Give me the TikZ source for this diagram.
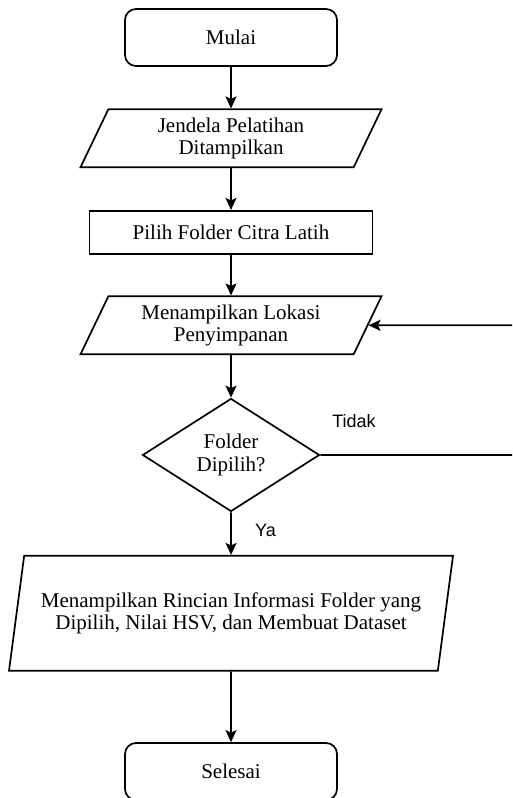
\documentclass[tikz,border=0pt]{standalone}
\usepackage{fontspec}
\setmainfont{Liberation Serif}
\newfontfamily\labelfont{Liberation Sans}
\usetikzlibrary{shapes.geometric,arrows.meta}
\tikzset{
	boxtext/.style = {font=\fontsize{21}{22.5}\selectfont, align=center},
	terminal/.style = {draw, boxtext, line width=1.7pt, rounded corners=11pt, minimum width=212pt, minimum height=57pt},
	process/.style = {draw, boxtext, line width=1.7pt, minimum width=283pt, minimum height=43pt},
	iobox/.style = {draw, boxtext, line width=1.7pt, trapezium, trapezium left angle=60, trapezium right angle=120, trapezium stretches body, minimum width=301pt, minimum height=58pt},
	decision/.style = {draw, boxtext, diamond, line width=1.7pt, minimum width=177pt, minimum height=113pt, inner sep=0pt},
	flowline/.style = {line width=1.7pt, -{Stealth[length=12pt,width=11pt,inset=2.5pt]}},
	edgelabel/.style = {font=\labelfont\fontsize{18}{20}\selectfont}
}

\begin{document}
\begin{tikzpicture}[x=1pt,y=1pt]
	\useasboundingbox (0,0) rectangle (512,798);
	\clip (0,0) rectangle (512,798);
	\node[terminal] (mulai) at (231,760.5) {Mulai};
	\node[iobox] (jendela) at (231,659.7) {Jendela Pelatihan\\Ditampilkan};
	\node[process] (pilih) at (231,565.7) {Pilih Folder Citra Latih};
	\node[iobox] (lokasi) at (231,472.7) {Menampilkan Lokasi\\Penyimpanan};
	\node[decision] (dipilih) at (231,343) {Folder\\Dipilih?};
	\node[iobox, trapezium left angle=72.6, trapezium right angle=107.4, minimum width=444pt, minimum height=115pt] (rincian) at (231,184.7) {Menampilkan Rincian Informasi Folder yang\\Dipilih, Nilai HSV, dan Membuat Dataset};
	\node[terminal] (selesai) at (231,26.5) {Selesai};
	\coordinate (balikbawah) at (530,343);
	\coordinate (balikatas) at (530,472.7);
	\node[edgelabel] (tidak) at (354,376.5) {Tidak};
	\node[edgelabel] (ya) at (265.5,268) {Ya};
	\draw[flowline] (mulai) -- (jendela);
	\draw[flowline] (jendela) -- (pilih);
	\draw[flowline] (pilih) -- (lokasi);
	\draw[flowline] (lokasi) -- (dipilih);
	\draw[flowline] (dipilih) -- (rincian);
	\draw[flowline] (rincian) -- (selesai);
	\draw[flowline] (dipilih.east) -- (balikbawah) -- (balikatas) -- (lokasi.east);
\end{tikzpicture}
\end{document}
